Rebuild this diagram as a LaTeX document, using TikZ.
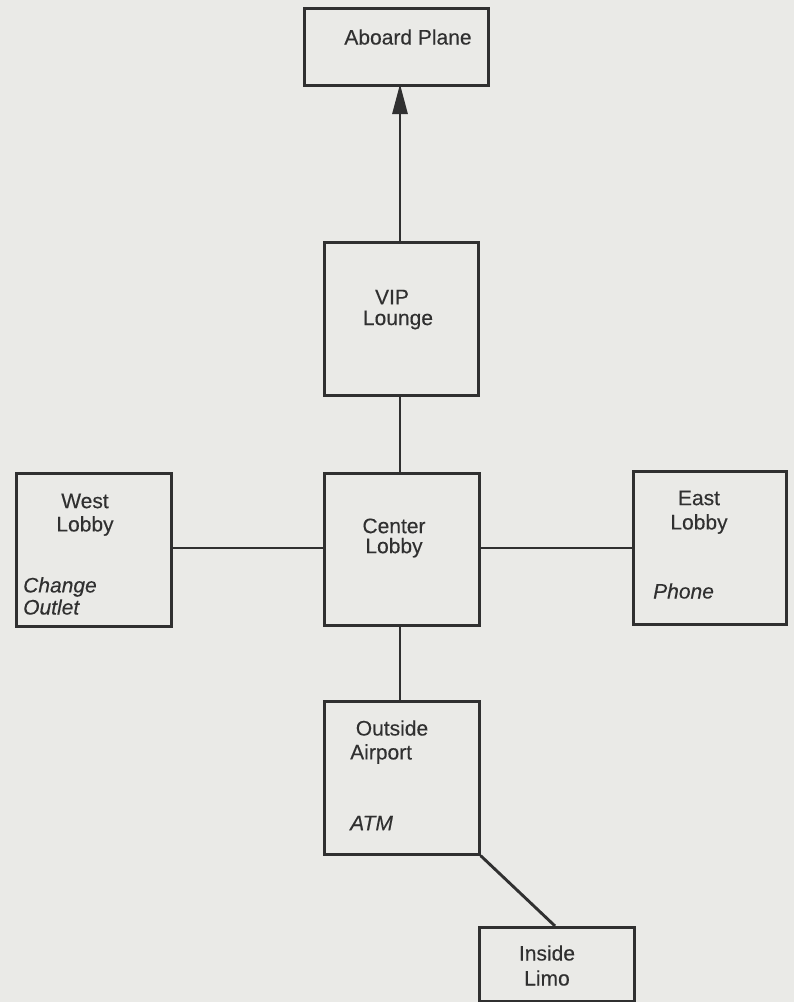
\documentclass[tikz,border=0pt]{standalone}
\usepackage{fontspec}
\newfontfamily\roomfont{Liberation Sans}[FakeBold=0.25]
\usetikzlibrary{arrows.meta}
\definecolor{bg}{RGB}{234,234,231}
\definecolor{ink}{RGB}{48,48,48}
\begin{document}
\begin{tikzpicture}[x=1pt,y=-1pt,
  room/.style={draw=ink,line width=2.7pt,fill=none,inner sep=0pt,anchor=north west},
  lbl/.style={text=ink,font=\roomfont\fontsize{21}{23}\selectfont,inner sep=0pt,anchor=center},
  itm/.style={text=ink,font=\roomfont\fontsize{21}{23}\selectfont\itshape,inner sep=0pt,anchor=west},
  lft/.style={text=ink,font=\roomfont\fontsize{21}{23}\selectfont,inner sep=0pt,anchor=west},
  link/.style={draw=ink,line width=2.9pt}]
\fill[bg] (0,0) rectangle (794,1002);
\useasboundingbox (0,0) rectangle (794,1002);
% rooms
\node[room,minimum width=184pt,minimum height=77pt] (plane) at (303,7) {};
\node[room,minimum width=154pt,minimum height=153pt] (vip) at (323,241) {};
\node[room,minimum width=155pt,minimum height=152pt] (center) at (323,472) {};
\node[room,minimum width=155pt,minimum height=153pt] (west) at (15,472) {};
\node[room,minimum width=153pt,minimum height=153pt] (east) at (632,470) {};
\node[room,minimum width=155pt,minimum height=153pt] (outside) at (323,700) {};
\node[room,minimum width=155pt,minimum height=74pt] (limo) at (478,926) {};
% texts
\node[lbl] (tplane) at (408,37) {Aboard Plane};
\node[lbl] (tvip1) at (392,297) {VIP};
\node[lbl] (tvip2) at (398,320) {Lounge};
\node[lbl,align=center,font=\roomfont\fontsize{21}{20}\selectfont] (tc) at (394,538) {Center\\Lobby};
\node[lbl] (tw1) at (85,501) {West};
\node[lbl] (tw2) at (85,526) {Lobby};
\node[itm] (tw3) at (23,587) {Change};
\node[itm] (tw4) at (23,607) {Outlet};
\node[lbl] (te1) at (699,498) {East};
\node[lbl] (te2) at (699,524) {Lobby};
\node[itm] (te3) at (653,591) {Phone};
\node[lbl] (to1) at (392,728) {Outside};
\node[lft] (to2) at (350,754) {Airport};
\node[itm] (to3) at (350,823) {ATM};
\node[lbl] (tl1) at (547,953) {Inside};
\node[lbl] (tl2) at (547,978) {Limo};
% connectors
\coordinate (vipTop) at (400,241);
\coordinate (planeBot) at (400,84);
\draw[link,-{Triangle[length=30pt,width=15pt]}] (vipTop) -- (planeBot);
\draw[link] (vip.south -| vipTop) -- (center.north -| vipTop);
\draw[link] (center.south -| vipTop) -- (outside.north -| vipTop);
\coordinate (wy) at (0,548);
\draw[link] (west.east |- wy) -- (center.west |- wy);
\draw[link] (center.east |- wy) -- (east.west |- wy);
\coordinate (limoTop) at (555,926);
\draw[link] (outside.south east) -- (limoTop);
\end{tikzpicture}
\end{document}
